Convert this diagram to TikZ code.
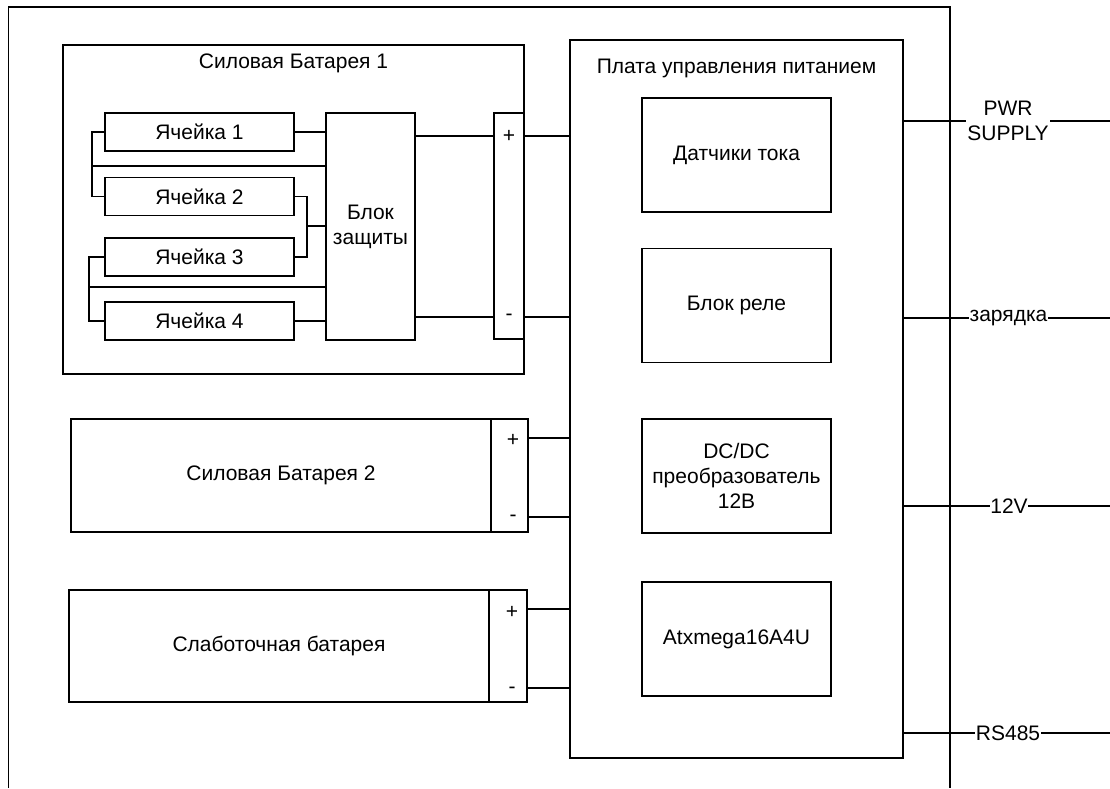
\documentclass[tikz,border=0pt]{standalone}
\usepackage{fontspec}
\setmainfont{Liberation Sans}
\begin{document}
\begin{tikzpicture}[x=1pt,y=-1pt,
  line width=1.6pt,
  every node/.style={font=\fontsize{21}{25}\selectfont},
  blk/.style={draw, rectangle, inner sep=0pt, align=center},
  pin/.style={inner sep=0pt},
  lbl/.style={fill=white, inner sep=1.5pt, align=center},
  wire/.style={line width=1.6pt}]
  \useasboundingbox (0,0) rectangle (1110,788);

  % enclosure (open at the bottom edge)
  \coordinate (encBL) at (8.5,788);
  \coordinate (encTR) at (950,7);
  \coordinate (encBR) at (950,788);
  \draw (encBL) |- (encTR) -- (encBR);

  % ---------------- power battery 1 ----------------
  \node[blk, minimum width=461, minimum height=329] (bat1) at (293.5,209.5) {};
  \node[pin] (bat1t) at (293.5,63) {Силовая Батарея 1};

  \node[blk, minimum width=189, minimum height=38] (c1) at (199.5,132)   {Ячейка 1};
  \node[blk, minimum width=189, minimum height=38] (c2) at (199.5,196.5) {Ячейка 2};
  \node[blk, minimum width=189, minimum height=38] (c3) at (199.5,257)   {Ячейка 3};
  \node[blk, minimum width=189, minimum height=38] (c4) at (199.5,321)   {Ячейка 4};
  \node[blk, minimum width=89, minimum height=227] (prot) at (370.5,226.5) {Блок\\защиты};

  \node[blk, minimum width=30, minimum height=226] (t1) at (509,226) {};
  \node[pin] (t1p) at (509,136) {+};
  \node[pin] (t1m) at (509,317) {-};

  % cell wiring
  \coordinate (j12) at (92,166);
  \coordinate (j34) at (89,287);
  \coordinate (j23) at (307,226);
  \draw[wire] (c1.west) -| (j12) |- (c2.west);
  \draw[wire] (j12) -- (prot.west |- j12);
  \draw[wire] (c3.west) -| (j34) |- (c4.west);
  \draw[wire] (j34) -- (prot.west |- j34);
  \draw[wire] (c2.east) -| (j23) |- (c3.east);
  \draw[wire] (j23) -- (prot.west |- j23);
  \draw[wire] (c1.east) -- (prot.west |- c1.east);
  \draw[wire] (c4.east) -- (prot.west |- c4.east);
  \draw[wire] (prot.east |- t1p) -- (t1.west |- t1p);
  \draw[wire] (prot.east |- t1m) -- (t1.west |- t1m);

  % ---------------- power battery 2 ----------------
  \node[blk, minimum width=420, minimum height=113] (bat2) at (281,475.5) {Силовая Батарея 2};
  \node[blk, minimum width=37, minimum height=113] (t2) at (509.5,475.5) {};
  \node[pin] (t2p) at (513,440) {+};
  \node[pin] (t2m) at (513,518) {-};

  % ---------------- low-current battery ----------------
  \node[blk, minimum width=420, minimum height=112] (bat3) at (279,646) {Слаботочная батарея};
  \node[blk, minimum width=38, minimum height=112] (t3) at (508,646) {};
  \node[pin] (t3p) at (512,612) {+};
  \node[pin] (t3m) at (512,690) {-};

  % ---------------- power management board ----------------
  \node[blk, minimum width=333, minimum height=718] (board) at (736.5,399) {};
  \node[pin] (boardt) at (736.5,68) {Плата управления питанием};
  \node[blk, minimum width=189, minimum height=114] (sens)  at (736.5,155)   {Датчики тока};
  \node[blk, minimum width=189, minimum height=114] (relay) at (736.5,305.5) {Блок реле};
  \node[blk, minimum width=189, minimum height=114] (dcdc)  at (736.5,476)   {DC/DC\\преобразователь\\12В};
  \node[blk, minimum width=189, minimum height=114] (mcu)   at (736.5,639)   {Atxmega16A4U};

  % battery terminals to the board
  \coordinate (b1p) at (0,136);  \coordinate (b1m) at (0,317);
  \coordinate (b2p) at (0,438);  \coordinate (b2m) at (0,517);
  \coordinate (b3p) at (0,609);  \coordinate (b3m) at (0,688);
  \draw[wire] (t1.east |- b1p) -- (board.west |- b1p);
  \draw[wire] (t1.east |- b1m) -- (board.west |- b1m);
  \draw[wire] (t2.east |- b2p) -- (board.west |- b2p);
  \draw[wire] (t2.east |- b2m) -- (board.west |- b2m);
  \draw[wire] (t3.east |- b3p) -- (board.west |- b3p);
  \draw[wire] (t3.east |- b3m) -- (board.west |- b3m);

  % external outputs
  \coordinate (oPwr) at (1110,121);
  \coordinate (oChg) at (1110,318);
  \coordinate (o12)  at (1110,506);
  \coordinate (o485) at (1110,733);
  \draw[wire] (board.east |- oPwr) -- (oPwr);
  \draw[wire] (board.east |- oChg) -- (oChg);
  \draw[wire] (board.east |- o12)  -- (o12);
  \draw[wire] (board.east |- o485) -- (o485);
  \node[lbl] (lPwr) at (1008,121) {PWR\\SUPPLY};
  \node[lbl, inner sep=0.5pt] (lChg) at (1008.5,318) {зарядка};
  \node[lbl, inner sep=0.5pt] (l12)  at (1009,506) {12V};
  \node[lbl, inner sep=0.5pt] (l485) at (1008,733) {RS485};
\end{tikzpicture}
\end{document}
